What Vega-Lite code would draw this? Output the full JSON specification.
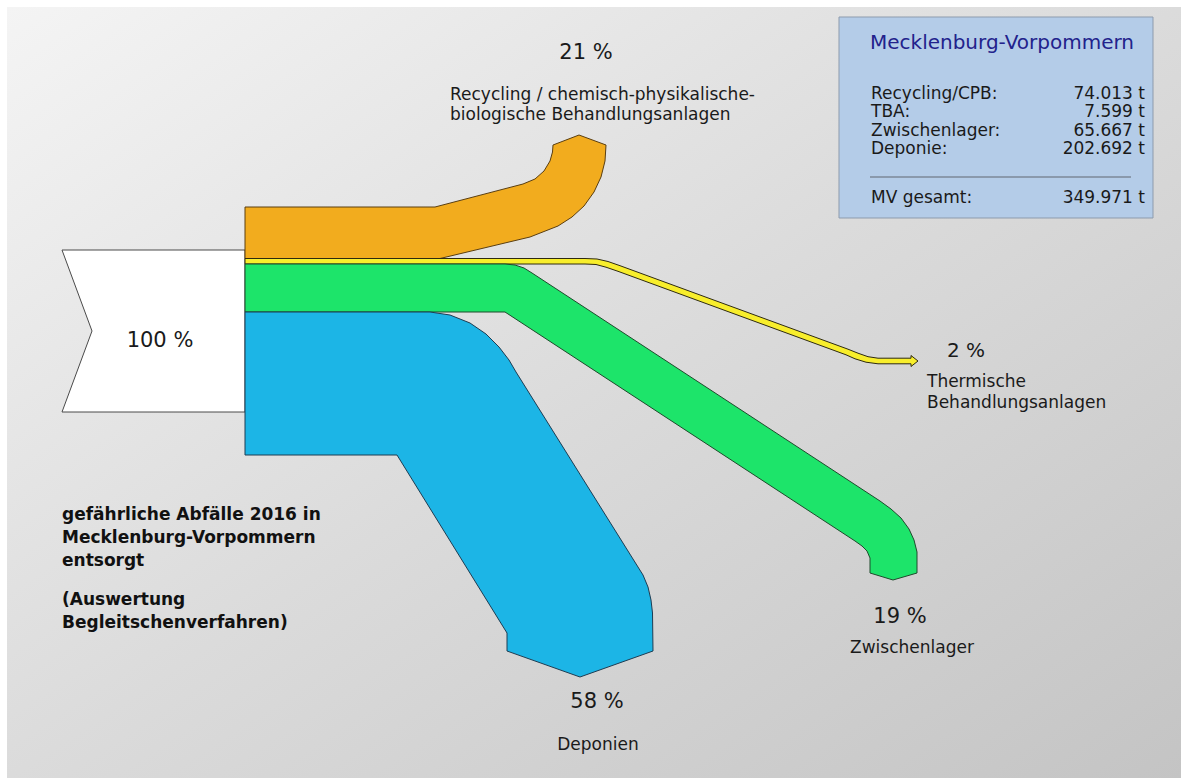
{
  "$schema": "https://vega.github.io/schema/vega-lite/v6.json",
  "width": 1181,
  "height": 778,
  "autosize": {"type": "fit", "contains": "padding"},
  "padding": {"left": 7, "top": 7, "right": 0, "bottom": 0},
  "background": "#ffffff",
  "view": {
    "stroke": null,
    "fill": {
      "gradient": "linear", "x1": 0, "y1": 0, "x2": 1, "y2": 1,
      "stops": [
        {"offset": 0, "color": "#f4f4f4"},
        {"offset": 0.5, "color": "#dbdbdb"},
        {"offset": 1, "color": "#c4c4c4"}
      ]
    }
  },
  "config": {
    "view": {"stroke": null},
    "text": {"font": "DejaVu Sans", "color": "#1a1a1a"}
  },
  "datasets": {
    "ziele": [
      {"kurz": "Recycling/CPB", "anteil": 21, "tonnen": 74013, "bezeichnung": ["Recycling / chemisch-physikalische-", "biologische Behandlungsanlagen"]},
      {"kurz": "TBA", "anteil": 2, "tonnen": 7599, "bezeichnung": ["Thermische", "Behandlungsanlagen"]},
      {"kurz": "Zwischenlager", "anteil": 19, "tonnen": 65667, "bezeichnung": ["Zwischenlager"]},
      {"kurz": "Deponie", "anteil": 58, "tonnen": 202692, "bezeichnung": ["Deponien"]}
    ],
    "umriss": [
      {"form": "Gesamt", "i": 1, "x": 62, "y": 250},
      {"form": "Gesamt", "i": 2, "x": 245, "y": 250},
      {"form": "Gesamt", "i": 3, "x": 245, "y": 412},
      {"form": "Gesamt", "i": 4, "x": 62, "y": 412},
      {"form": "Gesamt", "i": 5, "x": 92, "y": 331},
      {"form": "Gesamt", "i": 6, "x": 62, "y": 250},

      {"form": "Recycling/CPB", "i": 1, "x": 245, "y": 207},
      {"form": "Recycling/CPB", "i": 2, "x": 435, "y": 207},
      {"form": "Recycling/CPB", "i": 3, "x": 523, "y": 184},
      {"form": "Recycling/CPB", "i": 4, "x": 535, "y": 179},
      {"form": "Recycling/CPB", "i": 5, "x": 544, "y": 171},
      {"form": "Recycling/CPB", "i": 6, "x": 550, "y": 161},
      {"form": "Recycling/CPB", "i": 7, "x": 552.5, "y": 152},
      {"form": "Recycling/CPB", "i": 8, "x": 553, "y": 145},
      {"form": "Recycling/CPB", "i": 9, "x": 579, "y": 135},
      {"form": "Recycling/CPB", "i": 10, "x": 606, "y": 145},
      {"form": "Recycling/CPB", "i": 11, "x": 605, "y": 161},
      {"form": "Recycling/CPB", "i": 12, "x": 601, "y": 177},
      {"form": "Recycling/CPB", "i": 13, "x": 594, "y": 192},
      {"form": "Recycling/CPB", "i": 14, "x": 584, "y": 206},
      {"form": "Recycling/CPB", "i": 15, "x": 572, "y": 217},
      {"form": "Recycling/CPB", "i": 16, "x": 558, "y": 226},
      {"form": "Recycling/CPB", "i": 17, "x": 530, "y": 237},
      {"form": "Recycling/CPB", "i": 18, "x": 440, "y": 258.5},
      {"form": "Recycling/CPB", "i": 19, "x": 245, "y": 258.5},
      {"form": "Recycling/CPB", "i": 20, "x": 245, "y": 207},

      {"form": "TBA", "i": 1, "x": 245, "y": 258.5},
      {"form": "TBA", "i": 2, "x": 585, "y": 258.5},
      {"form": "TBA", "i": 3, "x": 597, "y": 259},
      {"form": "TBA", "i": 4, "x": 608, "y": 261.5},
      {"form": "TBA", "i": 5, "x": 620, "y": 265.7},
      {"form": "TBA", "i": 6, "x": 848, "y": 349.2},
      {"form": "TBA", "i": 7, "x": 858, "y": 353.2},
      {"form": "TBA", "i": 8, "x": 868, "y": 356.7},
      {"form": "TBA", "i": 9, "x": 878, "y": 358.2},
      {"form": "TBA", "i": 10, "x": 911, "y": 358.2},
      {"form": "TBA", "i": 11, "x": 911, "y": 355.5},
      {"form": "TBA", "i": 12, "x": 918, "y": 361},
      {"form": "TBA", "i": 13, "x": 911, "y": 366.5},
      {"form": "TBA", "i": 14, "x": 911, "y": 363.8},
      {"form": "TBA", "i": 15, "x": 878, "y": 363.8},
      {"form": "TBA", "i": 16, "x": 866, "y": 362.2},
      {"form": "TBA", "i": 17, "x": 855, "y": 358.8},
      {"form": "TBA", "i": 18, "x": 846, "y": 354.8},
      {"form": "TBA", "i": 19, "x": 618, "y": 271.3},
      {"form": "TBA", "i": 20, "x": 606, "y": 267.2},
      {"form": "TBA", "i": 21, "x": 596, "y": 264.5},
      {"form": "TBA", "i": 22, "x": 585, "y": 264},
      {"form": "TBA", "i": 23, "x": 245, "y": 264},
      {"form": "TBA", "i": 24, "x": 245, "y": 258.5},

      {"form": "Zwischenlager", "i": 1, "x": 245, "y": 264},
      {"form": "Zwischenlager", "i": 2, "x": 505, "y": 264},
      {"form": "Zwischenlager", "i": 3, "x": 515, "y": 265},
      {"form": "Zwischenlager", "i": 4, "x": 524, "y": 268},
      {"form": "Zwischenlager", "i": 5, "x": 532, "y": 273},
      {"form": "Zwischenlager", "i": 6, "x": 880, "y": 501},
      {"form": "Zwischenlager", "i": 7, "x": 891, "y": 509},
      {"form": "Zwischenlager", "i": 8, "x": 901, "y": 518},
      {"form": "Zwischenlager", "i": 9, "x": 909, "y": 529},
      {"form": "Zwischenlager", "i": 10, "x": 914, "y": 540},
      {"form": "Zwischenlager", "i": 11, "x": 917, "y": 552},
      {"form": "Zwischenlager", "i": 12, "x": 917, "y": 573},
      {"form": "Zwischenlager", "i": 13, "x": 893, "y": 580},
      {"form": "Zwischenlager", "i": 14, "x": 870, "y": 573},
      {"form": "Zwischenlager", "i": 15, "x": 870, "y": 558},
      {"form": "Zwischenlager", "i": 16, "x": 867, "y": 551},
      {"form": "Zwischenlager", "i": 17, "x": 862, "y": 546},
      {"form": "Zwischenlager", "i": 18, "x": 855, "y": 541},
      {"form": "Zwischenlager", "i": 19, "x": 505, "y": 312},
      {"form": "Zwischenlager", "i": 20, "x": 245, "y": 312},
      {"form": "Zwischenlager", "i": 21, "x": 245, "y": 264},

      {"form": "Deponie", "i": 1, "x": 245, "y": 312},
      {"form": "Deponie", "i": 2, "x": 430, "y": 312},
      {"form": "Deponie", "i": 3, "x": 450, "y": 315},
      {"form": "Deponie", "i": 4, "x": 470, "y": 323},
      {"form": "Deponie", "i": 5, "x": 486, "y": 334},
      {"form": "Deponie", "i": 6, "x": 499, "y": 347},
      {"form": "Deponie", "i": 7, "x": 509, "y": 360},
      {"form": "Deponie", "i": 8, "x": 516, "y": 372},
      {"form": "Deponie", "i": 9, "x": 643, "y": 575},
      {"form": "Deponie", "i": 10, "x": 648, "y": 587},
      {"form": "Deponie", "i": 11, "x": 651, "y": 600},
      {"form": "Deponie", "i": 12, "x": 652.5, "y": 613},
      {"form": "Deponie", "i": 13, "x": 653, "y": 651},
      {"form": "Deponie", "i": 14, "x": 580, "y": 677},
      {"form": "Deponie", "i": 15, "x": 507, "y": 651},
      {"form": "Deponie", "i": 16, "x": 507, "y": 633},
      {"form": "Deponie", "i": 17, "x": 397, "y": 455},
      {"form": "Deponie", "i": 18, "x": 245, "y": 455},
      {"form": "Deponie", "i": 19, "x": 245, "y": 312}
    ]
  },
  "layer": [
    {
      "data": {"name": "umriss"},
      "mark": {"type": "line", "strokeWidth": 1, "strokeJoin": "round"},
      "encoding": {
        "x": {"field": "x", "type": "quantitative", "scale": {"domain": [7, 1181], "nice": false, "zero": false}, "axis": null},
        "y": {"field": "y", "type": "quantitative", "scale": {"domain": [7, 778], "nice": false, "zero": false, "reverse": true}, "axis": null},
        "order": {"field": "i", "type": "quantitative"},
        "detail": {"field": "form", "type": "nominal"},
        "fill": {
          "field": "form", "type": "nominal", "legend": null,
          "scale": {
            "domain": ["Gesamt", "Recycling/CPB", "TBA", "Zwischenlager", "Deponie"],
            "range": ["#ffffff", "#f2ac1e", "#f8ee2c", "#1de46a", "#1cb5e6"]
          }
        },
        "stroke": {
          "field": "form", "type": "nominal", "legend": null,
          "scale": {
            "domain": ["Gesamt", "Recycling/CPB", "TBA", "Zwischenlager", "Deponie"],
            "range": ["#4a4a4a", "#5a3e10", "#2e2a10", "#1f4a2c", "#1d3c52"]
          }
        }
      }
    },
    {
      "data": {"values": [{"titel": "Mecklenburg-Vorpommern"}]},
      "layer": [
        {
          "mark": {"type": "rect", "fill": "#b4cce8", "stroke": "#8d9bad", "strokeWidth": 1},
          "encoding": {
            "x": {"datum": 839, "type": "quantitative", "scale": {"domain": [7, 1181], "nice": false, "zero": false}, "axis": null},
            "x2": {"datum": 1153},
            "y": {"datum": 17, "type": "quantitative", "scale": {"domain": [7, 778], "nice": false, "zero": false, "reverse": true}, "axis": null},
            "y2": {"datum": 218}
          }
        },
        {
          "mark": {"type": "text", "align": "left", "baseline": "alphabetic", "fontSize": 20, "color": "#22228c"},
          "encoding": {
            "x": {"datum": 870, "type": "quantitative", "scale": {"domain": [7, 1181], "nice": false, "zero": false}, "axis": null},
            "y": {"datum": 49, "type": "quantitative", "scale": {"domain": [7, 778], "nice": false, "zero": false, "reverse": true}, "axis": null},
            "text": {"field": "titel", "type": "nominal"}
          }
        },
        {
          "mark": {"type": "rule", "stroke": "#7c8898", "strokeWidth": 1.5},
          "encoding": {
            "x": {"datum": 870, "type": "quantitative", "scale": {"domain": [7, 1181], "nice": false, "zero": false}, "axis": null},
            "x2": {"datum": 1131},
            "y": {"datum": 177, "type": "quantitative", "scale": {"domain": [7, 778], "nice": false, "zero": false, "reverse": true}, "axis": null}
          }
        }
      ]
    },
    {
      "data": {"name": "ziele"},
      "transform": [
        {"calculate": "datum.kurz + ':'", "as": "zeile"},
        {"calculate": "replace(format(datum.tonnen, ','), ',', '.') + ' t'", "as": "menge"}
      ],
      "layer": [
        {
          "mark": {"type": "text", "align": "left", "baseline": "alphabetic", "fontSize": 17},
          "encoding": {
            "x": {"datum": 871, "type": "quantitative", "scale": {"domain": [7, 1181], "nice": false, "zero": false}, "axis": null},
            "y": {"datum": 99, "type": "quantitative", "scale": {"domain": [7, 778], "nice": false, "zero": false, "reverse": true}, "axis": null},
            "yOffset": {"field": "kurz", "type": "nominal", "scale": {"type": "point", "domain": ["Recycling/CPB", "TBA", "Zwischenlager", "Deponie"], "range": [0, 55], "padding": 0}},
            "text": {"field": "zeile", "type": "nominal"}
          }
        },
        {
          "mark": {"type": "text", "align": "right", "baseline": "alphabetic", "fontSize": 17},
          "encoding": {
            "x": {"datum": 1145, "type": "quantitative", "scale": {"domain": [7, 1181], "nice": false, "zero": false}, "axis": null},
            "y": {"datum": 99, "type": "quantitative", "scale": {"domain": [7, 778], "nice": false, "zero": false, "reverse": true}, "axis": null},
            "yOffset": {"field": "kurz", "type": "nominal", "scale": {"type": "point", "domain": ["Recycling/CPB", "TBA", "Zwischenlager", "Deponie"], "range": [0, 55], "padding": 0}},
            "text": {"field": "menge", "type": "nominal"}
          }
        }
      ]
    },
    {
      "data": {"name": "ziele"},
      "transform": [
        {"aggregate": [{"op": "sum", "field": "tonnen", "as": "summe"}, {"op": "sum", "field": "anteil", "as": "gesamtanteil"}]},
        {"calculate": "replace(format(datum.summe, ','), ',', '.') + ' t'", "as": "menge"},
        {"calculate": "'MV gesamt:'", "as": "zeile"},
        {"calculate": "datum.gesamtanteil + ' %'", "as": "prozent"}
      ],
      "layer": [
        {
          "mark": {"type": "text", "align": "left", "baseline": "alphabetic", "fontSize": 17},
          "encoding": {
            "x": {"datum": 871, "type": "quantitative", "scale": {"domain": [7, 1181], "nice": false, "zero": false}, "axis": null},
            "y": {"datum": 203, "type": "quantitative", "scale": {"domain": [7, 778], "nice": false, "zero": false, "reverse": true}, "axis": null},
            "text": {"field": "zeile", "type": "nominal"}
          }
        },
        {
          "mark": {"type": "text", "align": "right", "baseline": "alphabetic", "fontSize": 17},
          "encoding": {
            "x": {"datum": 1145, "type": "quantitative", "scale": {"domain": [7, 1181], "nice": false, "zero": false}, "axis": null},
            "y": {"datum": 203, "type": "quantitative", "scale": {"domain": [7, 778], "nice": false, "zero": false, "reverse": true}, "axis": null},
            "text": {"field": "menge", "type": "nominal"}
          }
        },
        {
          "mark": {"type": "text", "align": "center", "baseline": "alphabetic", "fontSize": 21},
          "encoding": {
            "x": {"datum": 160, "type": "quantitative", "scale": {"domain": [7, 1181], "nice": false, "zero": false}, "axis": null},
            "y": {"datum": 347, "type": "quantitative", "scale": {"domain": [7, 778], "nice": false, "zero": false, "reverse": true}, "axis": null},
            "text": {"field": "prozent", "type": "nominal"}
          }
        }
      ]
    },
    {
      "data": {"values": [{"zeilen": ["gefährliche Abfälle 2016 in", "Mecklenburg-Vorpommern", "entsorgt"]}]},
      "mark": {"type": "text", "align": "left", "baseline": "alphabetic", "fontSize": 17, "fontWeight": "bold", "lineHeight": 23, "color": "#111111"},
      "encoding": {
        "x": {"datum": 62, "type": "quantitative", "scale": {"domain": [7, 1181], "nice": false, "zero": false}, "axis": null},
        "y": {"datum": 520, "type": "quantitative", "scale": {"domain": [7, 778], "nice": false, "zero": false, "reverse": true}, "axis": null},
        "text": {"field": "zeilen", "type": "nominal"}
      }
    },
    {
      "data": {"values": [{"zeilen": ["(Auswertung", "Begleitschenverfahren)"]}]},
      "mark": {"type": "text", "align": "left", "baseline": "alphabetic", "fontSize": 17, "fontWeight": "bold", "lineHeight": 23, "color": "#111111"},
      "encoding": {
        "x": {"datum": 62, "type": "quantitative", "scale": {"domain": [7, 1181], "nice": false, "zero": false}, "axis": null},
        "y": {"datum": 605, "type": "quantitative", "scale": {"domain": [7, 778], "nice": false, "zero": false, "reverse": true}, "axis": null},
        "text": {"field": "zeilen", "type": "nominal"}
      }
    },
    {
      "data": {"name": "ziele"},
      "transform": [
        {"filter": "datum.kurz === 'Recycling/CPB'"},
        {"calculate": "datum.anteil + ' %'", "as": "prozent"}
      ],
      "layer": [
        {
          "mark": {"type": "text", "align": "center", "baseline": "alphabetic", "fontSize": 21},
          "encoding": {
            "x": {"datum": 586, "type": "quantitative", "scale": {"domain": [7, 1181], "nice": false, "zero": false}, "axis": null},
            "y": {"datum": 59, "type": "quantitative", "scale": {"domain": [7, 778], "nice": false, "zero": false, "reverse": true}, "axis": null},
            "text": {"field": "prozent", "type": "nominal"}
          }
        },
        {
          "mark": {"type": "text", "align": "left", "baseline": "alphabetic", "fontSize": 17, "lineHeight": 20},
          "encoding": {
            "x": {"datum": 450, "type": "quantitative", "scale": {"domain": [7, 1181], "nice": false, "zero": false}, "axis": null},
            "y": {"datum": 100, "type": "quantitative", "scale": {"domain": [7, 778], "nice": false, "zero": false, "reverse": true}, "axis": null},
            "text": {"field": "bezeichnung", "type": "nominal"}
          }
        }
      ]
    },
    {
      "data": {"name": "ziele"},
      "transform": [
        {"filter": "datum.kurz === 'TBA'"},
        {"calculate": "datum.anteil + ' %'", "as": "prozent"}
      ],
      "layer": [
        {
          "mark": {"type": "text", "align": "left", "baseline": "alphabetic", "fontSize": 20},
          "encoding": {
            "x": {"datum": 947, "type": "quantitative", "scale": {"domain": [7, 1181], "nice": false, "zero": false}, "axis": null},
            "y": {"datum": 357, "type": "quantitative", "scale": {"domain": [7, 778], "nice": false, "zero": false, "reverse": true}, "axis": null},
            "text": {"field": "prozent", "type": "nominal"}
          }
        },
        {
          "mark": {"type": "text", "align": "left", "baseline": "alphabetic", "fontSize": 17, "lineHeight": 21},
          "encoding": {
            "x": {"datum": 927, "type": "quantitative", "scale": {"domain": [7, 1181], "nice": false, "zero": false}, "axis": null},
            "y": {"datum": 387, "type": "quantitative", "scale": {"domain": [7, 778], "nice": false, "zero": false, "reverse": true}, "axis": null},
            "text": {"field": "bezeichnung", "type": "nominal"}
          }
        }
      ]
    },
    {
      "data": {"name": "ziele"},
      "transform": [
        {"filter": "datum.kurz === 'Zwischenlager'"},
        {"calculate": "datum.anteil + ' %'", "as": "prozent"}
      ],
      "layer": [
        {
          "mark": {"type": "text", "align": "center", "baseline": "alphabetic", "fontSize": 21},
          "encoding": {
            "x": {"datum": 900, "type": "quantitative", "scale": {"domain": [7, 1181], "nice": false, "zero": false}, "axis": null},
            "y": {"datum": 623, "type": "quantitative", "scale": {"domain": [7, 778], "nice": false, "zero": false, "reverse": true}, "axis": null},
            "text": {"field": "prozent", "type": "nominal"}
          }
        },
        {
          "mark": {"type": "text", "align": "center", "baseline": "alphabetic", "fontSize": 17},
          "encoding": {
            "x": {"datum": 912, "type": "quantitative", "scale": {"domain": [7, 1181], "nice": false, "zero": false}, "axis": null},
            "y": {"datum": 653, "type": "quantitative", "scale": {"domain": [7, 778], "nice": false, "zero": false, "reverse": true}, "axis": null},
            "text": {"field": "bezeichnung", "type": "nominal"}
          }
        }
      ]
    },
    {
      "data": {"name": "ziele"},
      "transform": [
        {"filter": "datum.kurz === 'Deponie'"},
        {"calculate": "datum.anteil + ' %'", "as": "prozent"}
      ],
      "layer": [
        {
          "mark": {"type": "text", "align": "center", "baseline": "alphabetic", "fontSize": 21},
          "encoding": {
            "x": {"datum": 597, "type": "quantitative", "scale": {"domain": [7, 1181], "nice": false, "zero": false}, "axis": null},
            "y": {"datum": 708, "type": "quantitative", "scale": {"domain": [7, 778], "nice": false, "zero": false, "reverse": true}, "axis": null},
            "text": {"field": "prozent", "type": "nominal"}
          }
        },
        {
          "mark": {"type": "text", "align": "center", "baseline": "alphabetic", "fontSize": 17},
          "encoding": {
            "x": {"datum": 598, "type": "quantitative", "scale": {"domain": [7, 1181], "nice": false, "zero": false}, "axis": null},
            "y": {"datum": 750, "type": "quantitative", "scale": {"domain": [7, 778], "nice": false, "zero": false, "reverse": true}, "axis": null},
            "text": {"field": "bezeichnung", "type": "nominal"}
          }
        }
      ]
    }
  ]
}
